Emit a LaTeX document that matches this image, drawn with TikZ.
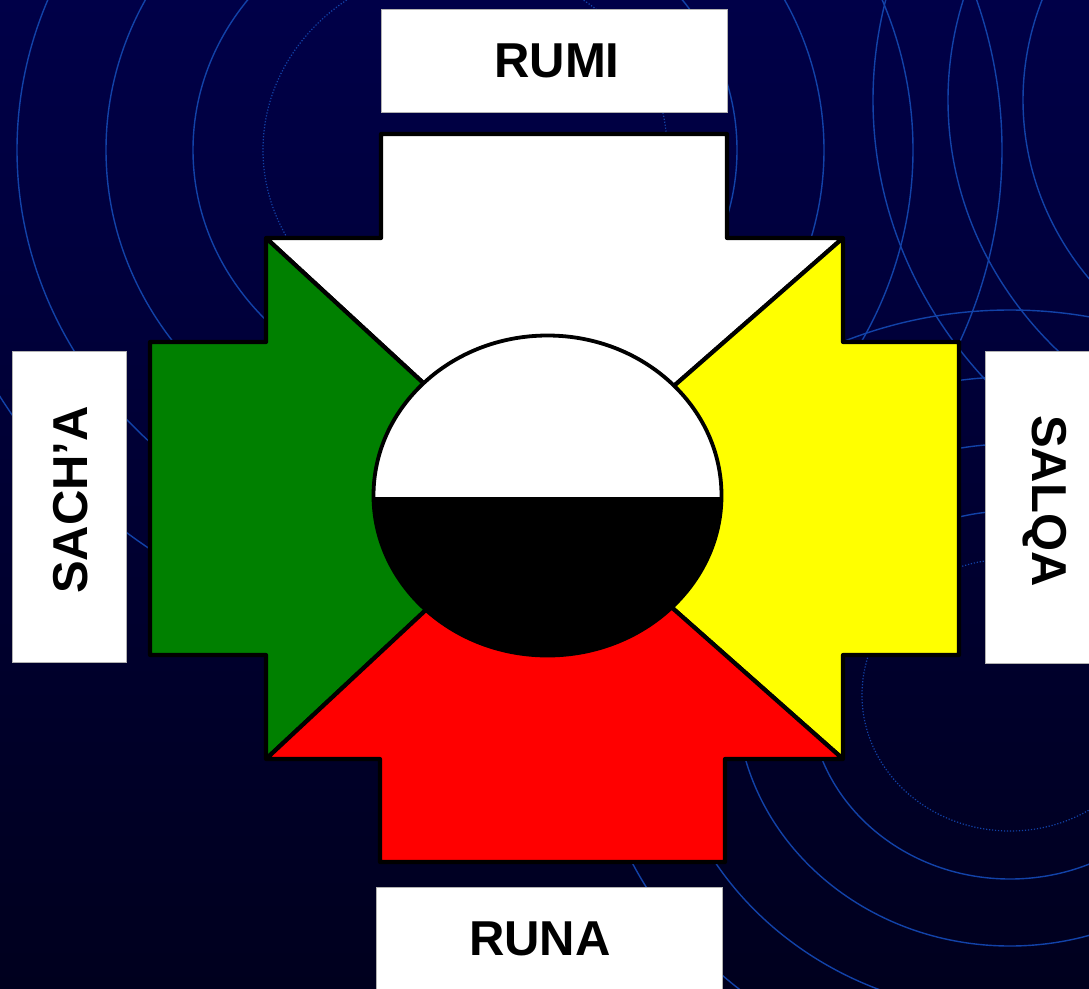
\documentclass[tikz,border=0pt]{standalone}
\usepackage{fontspec}
\setmainfont{Liberation Sans}
\begin{document}
\begin{tikzpicture}[x=1pt, y=-1pt]
    \def\midX{547}
    \def\midY{497}

    \definecolor{borderColour}{HTML}{000000}
    \definecolor{bgTop}{RGB}{0,0,72}
    \definecolor{bgMid}{RGB}{0,0,92}
    \definecolor{bgBottom}{RGB}{0,0,30}
    \definecolor{ringColour}{RGB}{18,66,168}
    \definecolor{fillColourN}{HTML}{FFFFFF}
    \definecolor{fillColourW}{HTML}{008000}
    \definecolor{fillColourE}{HTML}{FFFF00}
    \definecolor{fillColourS}{HTML}{FF0000}

    \tikzset{
        ring/.style={draw=ringColour, line width=1.4pt},
        dotring/.style={draw=ringColour, line width=1.2pt, dash pattern=on 1.2pt off 1.8pt},
        arm/.style={draw=borderColour, line width=4.2pt, line join=round},
        labelbox/.style={draw=gray!60, fill=white, line width=0.8pt, inner sep=0pt},
        labeltext/.style={font=\bfseries\fontsize{49}{56}\selectfont, text=black, inner sep=0pt}
    }

    \useasboundingbox (0,0) rectangle (1089,988);

    % Draw background
    \shade[top color=bgTop, middle color=bgMid, bottom color=bgBottom] (0,0) rectangle (1089,988);

    % Draw rings
    \begin{scope}
        \clip (0,0) rectangle (1089,988);
        \foreach \r in {272,359,448,537}
            \draw[ring] (465,150) ellipse [x radius=\r, y radius=\r/1.09];
        \draw[dotring] (465,150) ellipse [x radius=202, y radius=185];
        \foreach \r in {320,395,470}
            \draw[ring] (1343,100) ellipse [x radius=\r, y radius=\r/1.09];
        \foreach \r in {184,251,318,385}
            \draw[ring] (1010,695) ellipse [x radius=\r*1.09, y radius=\r];
        \draw[dotring] (1010,695) ellipse [x radius=148, y radius=136];
    \end{scope}

    % Corners of the cross
    \coordinate (C) at (\midX,\midY);
    \coordinate (NW) at (266,238);
    \coordinate (NE) at (843,238);
    \coordinate (SW) at (266,759);
    \coordinate (SE) at (843,759);

    % Arm N: white
    \filldraw[arm, fill=fillColourN] (NW) -- (381,238) -- (381,134) -- (727,134) -- (727,238) -- (NE) -- (C) -- cycle;
    % Arm W: green
    \filldraw[arm, fill=fillColourW] (NW) -- (266,342) -- (150,342) -- (150,655) -- (266,655) -- (SW) -- (C) -- cycle;
    % Arm E: yellow
    \filldraw[arm, fill=fillColourE] (NE) -- (843,342) -- (959,342) -- (959,655) -- (843,655) -- (SE) -- (C) -- cycle;
    % Arm S: red
    \filldraw[arm, fill=fillColourS] (SW) -- (380,759) -- (380,862) -- (725,862) -- (725,759) -- (SE) -- (C) -- cycle;

    % Centre disc, white over black
    \begin{scope}
        \clip (0,0) rectangle (1089,\midY);
        \fill[white] (547.5,495.5) ellipse [x radius=174, y radius=160];
    \end{scope}
    \begin{scope}
        \clip (0,\midY) rectangle (1089,988);
        \fill[black] (547.5,495.5) ellipse [x radius=174, y radius=160];
    \end{scope}
    \draw[borderColour, line width=3.8pt] (547.5,495.5) ellipse [x radius=174, y radius=160];

    % Label boxes
    \node[labelbox, minimum width=346, minimum height=103] (rumiBox) at (554,60.5) {};
    \node[labelbox, minimum width=346, minimum height=113] (runaBox) at (549,943.5) {};
    \node[labelbox, minimum width=114, minimum height=311] (sachaBox) at (69,506.5) {};
    \node[labelbox, minimum width=120, minimum height=312] (salqaBox) at (1045,507) {};

    \node[labeltext] (rumi) at (557,61) {RUMI};
    \node[labeltext] (runa) at (540,939) {RUNA};
    \node[labeltext, rotate=90] (sacha) at (71,500) {SACH’A};
    \node[labeltext, rotate=-90] (salqa) at (1045,501) {SALQA};

\end{tikzpicture}
\end{document}
